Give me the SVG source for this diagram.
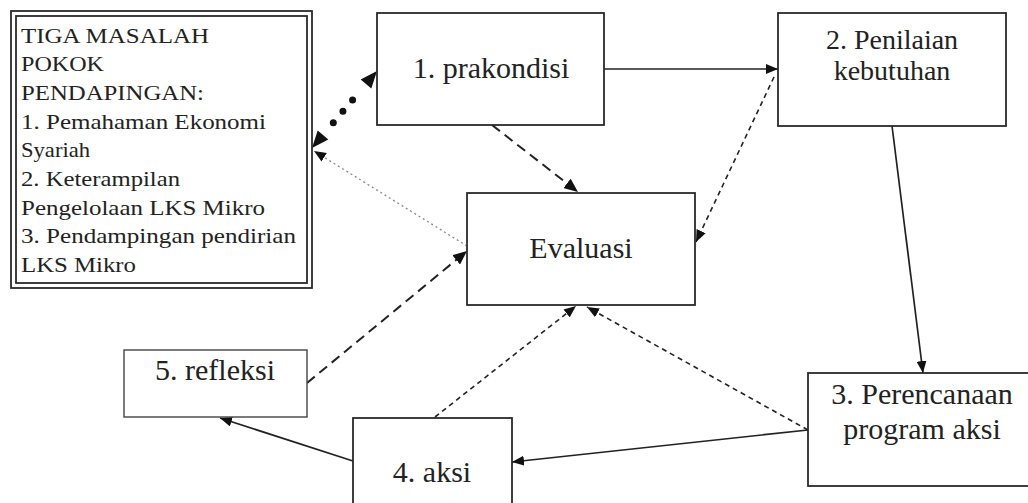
<svg xmlns="http://www.w3.org/2000/svg" width="1028" height="503" viewBox="0 0 1028 503">
<defs>
<style>
.box{fill:#fff;stroke:#2a2a2a;stroke-width:1.8}
.lbl{font-family:"Liberation Serif","Times New Roman",serif;font-size:30px;fill:#222;text-anchor:middle}
.lt{font-family:"Liberation Serif","Times New Roman",serif;font-size:22px;fill:#222}
.solid{fill:none;stroke:#222;stroke-width:1.7}
.dlong{fill:none;stroke:#222;stroke-width:2;stroke-dasharray:10 6}
.dshort{fill:none;stroke:#222;stroke-width:1.6;stroke-dasharray:5 4}
.dfine{fill:none;stroke:#888;stroke-width:1.3;stroke-dasharray:2 3}
</style>
<marker id="ah" viewBox="0 0 12 10" refX="12" refY="5" markerWidth="12" markerHeight="10" markerUnits="userSpaceOnUse" orient="auto">
<path d="M0,0 L12,5 L0,10 z" fill="#111"/>
</marker>
<marker id="ahb" viewBox="0 0 14 12" refX="14" refY="6" markerWidth="14" markerHeight="12" markerUnits="userSpaceOnUse" orient="auto">
<path d="M0,0 L14,6 L0,12 z" fill="#111"/>
</marker>
</defs>
<rect width="1028" height="503" fill="#fff"/>

<g id="connectors">
<line class="solid" x1="604" y1="69" x2="778" y2="69" marker-end="url(#ah)"/>
<line class="solid" x1="892" y1="126" x2="923" y2="373" marker-end="url(#ah)"/>
<line class="solid" x1="808" y1="430" x2="512" y2="462" marker-end="url(#ah)"/>
<line class="solid" x1="353" y1="461" x2="220" y2="418" marker-end="url(#ah)"/>
<line class="dlong" x1="492" y1="125" x2="578" y2="192" marker-end="url(#ahb)"/>
<line class="dlong" x1="307" y1="383" x2="467" y2="251" marker-end="url(#ahb)"/>
<line class="dshort" x1="774" y1="77" x2="696" y2="242" marker-end="url(#ah)"/>
<line class="dshort" x1="435" y1="417" x2="576" y2="306" marker-end="url(#ah)"/>
<line class="dshort" x1="808" y1="430" x2="587" y2="307" marker-end="url(#ah)"/>
<line class="dfine" x1="467" y1="246" x2="314" y2="151" marker-end="url(#ah)"/>
<line x1="333.3" y1="122.8" x2="352.6" y2="99.9" stroke="#111" stroke-width="7" stroke-linecap="round" stroke-dasharray="0 14.95"/>
<polygon points="377,71 371.3,88.5 360.7,79.5" fill="#111"/>
<polygon points="312,148 328.3,139.5 317.7,130.5" fill="#111"/>
</g>

<g id="node-masalah">
<rect x="11" y="11" width="301" height="277" fill="#fff" stroke="#2a2a2a" stroke-width="1.8"/>
<rect x="16" y="16" width="291" height="267" fill="none" stroke="#2a2a2a" stroke-width="1.8"/>
<text class="lt" x="21" y="42.5" textLength="188" lengthAdjust="spacingAndGlyphs">TIGA MASALAH</text>
<text class="lt" x="21" y="71.2" textLength="83" lengthAdjust="spacingAndGlyphs">POKOK</text>
<text class="lt" x="21" y="99.9" textLength="183" lengthAdjust="spacingAndGlyphs">PENDAPINGAN:</text>
<text class="lt" x="21" y="128.6" textLength="245" lengthAdjust="spacingAndGlyphs">1. Pemahaman Ekonomi</text>
<text class="lt" x="21" y="157.3" textLength="69" lengthAdjust="spacingAndGlyphs">Syariah</text>
<text class="lt" x="21" y="186" textLength="159" lengthAdjust="spacingAndGlyphs">2. Keterampilan</text>
<text class="lt" x="21" y="214.7" textLength="244" lengthAdjust="spacingAndGlyphs">Pengelolaan LKS Mikro</text>
<text class="lt" x="21" y="243.4" textLength="275" lengthAdjust="spacingAndGlyphs">3. Pendampingan pendirian</text>
<text class="lt" x="21" y="272.1" textLength="115" lengthAdjust="spacingAndGlyphs">LKS Mikro</text>
</g>

<g id="node-prakondisi">
<rect class="box" x="377" y="13" width="227" height="112"/>
<text class="lbl" x="491" y="78">1. prakondisi</text>
</g>

<g id="node-penilaian">
<rect class="box" x="778" y="13" width="228" height="113"/>
<text class="lbl" x="892" y="49" style="font-size:28px">2. Penilaian</text>
<text class="lbl" x="892" y="80" style="font-size:28px">kebutuhan</text>
</g>

<g id="node-evaluasi">
<rect class="box" x="467" y="193" width="228" height="112"/>
<text class="lbl" x="581" y="258">Evaluasi</text>
</g>

<g id="node-perencanaan">
<rect class="box" x="808" y="373" width="228" height="113"/>
<text class="lbl" x="922" y="404">3. Perencanaan</text>
<text class="lbl" x="922" y="439">program aksi</text>
</g>

<g id="node-refleksi">
<rect x="124" y="350" width="183" height="67" fill="#fff" stroke="#444" stroke-width="1.4"/>
<text class="lbl" x="215" y="380">5. refleksi</text>
</g>

<g id="node-aksi">
<rect class="box" x="353" y="418" width="159" height="100"/>
<text class="lbl" x="432" y="482">4. aksi</text>
</g>
</svg>
